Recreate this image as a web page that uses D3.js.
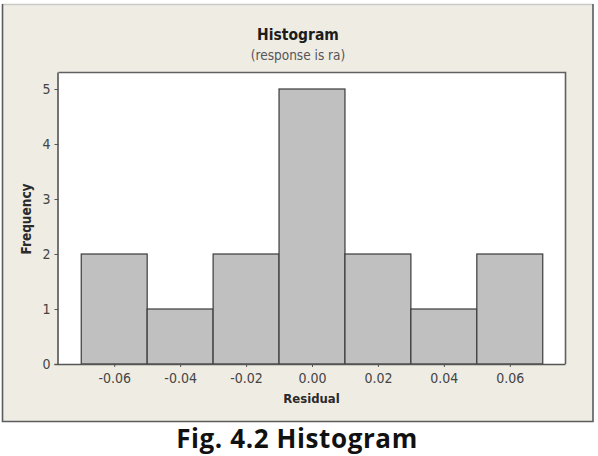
<!DOCTYPE html>
<html>
<head>
<meta charset="utf-8">
<script src="https://cdn.jsdelivr.net/npm/d3@7/dist/d3.min.js"></script>
<style>
  html, body { margin: 0; padding: 0; background: #ffffff; }
  svg { display: block; }
  .cond { font-family: "DejaVu Sans Condensed", "DejaVu Sans", sans-serif; font-stretch: condensed; }
</style>
</head>
<body>
<script>
// ---- data ----
const binCenters = [-0.06, -0.04, -0.02, 0.00, 0.02, 0.04, 0.06];
const frequencies = [2, 1, 2, 5, 2, 1, 2];
const binWidth = 0.02;
const xTickValues = [-0.06, -0.04, -0.02, 0.00, 0.02, 0.04, 0.06];
const yTickValues = [0, 1, 2, 3, 4, 5];
const titleText = "Histogram";
const subtitleText = "(response is ra)";
const xLabel = "Residual";
const yLabel = "Frequency";
const captionText = "Fig. 4.2 Histogram";

// ---- layout ----
const W = 598, H = 456;
const plot = { left: 58.5, right: 565.5, top: 72.5, bottom: 364 };

const svg = d3.select("body").append("svg").attr("width", W).attr("height", H);

// outer panel
svg.append("rect").attr("x", 2.5).attr("y", 4).attr("width", 590.5).attr("height", 417.5)
  .attr("fill", "#efece4");
svg.append("line").attr("x1", 2.5).attr("x2", 593).attr("y1", 4.5).attr("y2", 4.5)
  .attr("stroke", "#c9c9c6").attr("stroke-width", 1.5);
svg.append("path")
  .attr("d", `M2.5,4 L2.5,421.5 L593,421.5 L593,4`)
  .attr("fill", "none").attr("stroke", "#5c5c5c").attr("stroke-width", 1.6);

// scales
const x = d3.scaleLinear().domain([-0.0769, 0.0769]).range([plot.left, plot.right]);
const y = d3.scaleLinear().domain([0, 5.3]).range([plot.bottom, plot.bottom - 5.3 * 55]);

// plot area
svg.append("rect").attr("x", plot.left).attr("y", plot.top)
  .attr("width", plot.right - plot.left).attr("height", plot.bottom - plot.top)
  .attr("fill", "#ffffff");

// bars
svg.append("g").selectAll("rect").data(binCenters).join("rect")
  .attr("x", d => x(d - binWidth / 2))
  .attr("width", d => x(d + binWidth / 2) - x(d - binWidth / 2))
  .attr("y", (d, i) => y(frequencies[i]))
  .attr("height", (d, i) => y(0) - y(frequencies[i]))
  .attr("fill", "#c0c0c0")
  .attr("stroke", "#3a3a3a")
  .attr("stroke-width", 1.2);

// frame (top/right)
svg.append("path")
  .attr("d", `M${plot.left},${plot.top} L${plot.right},${plot.top} L${plot.right},${plot.bottom}`)
  .attr("fill", "none").attr("stroke", "#606060").attr("stroke-width", 1.6);

// axes
const xAxis = d3.axisBottom(x).tickValues(xTickValues).tickFormat(d => d.toFixed(2))
  .tickSizeInner(3).tickSizeOuter(0).tickPadding(6);
const gx = svg.append("g").attr("transform", `translate(0,${plot.bottom})`).call(xAxis);
gx.attr("font-family", null).attr("font-size", null);
gx.select(".domain").attr("d", `M${plot.left - 4},0.5 H${plot.right}`).attr("stroke", "#555").attr("stroke-width", 1.6);
gx.selectAll(".tick line").attr("stroke", "#555");
gx.selectAll(".tick text").attr("class", "cond").style("font-size", "14px").attr("fill", "#444");

const yAxis = d3.axisLeft(y).tickValues(yTickValues).tickFormat(d3.format("d"))
  .tickSizeInner(4).tickSizeOuter(0).tickPadding(4);
const gy = svg.append("g").attr("transform", `translate(${plot.left},0)`).call(yAxis);
gy.attr("font-family", null).attr("font-size", null);
gy.select(".domain").attr("d", `M-0.5,${plot.top} V${plot.bottom}`).attr("stroke", "#555").attr("stroke-width", 1.6);
gy.selectAll(".tick line").attr("stroke", "#555");
gy.selectAll(".tick text").attr("class", "cond").style("font-size", "14px").attr("fill", "#444");

// titles
svg.append("text").attr("class", "cond").attr("x", 298).attr("y", 40)
  .attr("text-anchor", "middle").style("font-size", "15.5px").attr("font-weight", "bold")
  .attr("fill", "#1c1c1c").text(titleText);
svg.append("text").attr("class", "cond").attr("x", 298).attr("y", 59.5)
  .attr("text-anchor", "middle").style("font-size", "13.5px")
  .attr("fill", "#555").text(subtitleText);
svg.append("text").attr("class", "cond").attr("x", 311.5).attr("y", 402.5)
  .attr("text-anchor", "middle").style("font-size", "13px").attr("font-weight", "bold")
  .attr("fill", "#2a2a2a").text(xLabel);
svg.append("text").attr("class", "cond")
  .attr("transform", "translate(31,219) rotate(-90)")
  .attr("text-anchor", "middle").style("font-size", "13.5px").attr("font-weight", "bold")
  .attr("fill", "#2a2a2a").text(yLabel);

// caption
svg.append("text").attr("x", 297).attr("y", 448)
  .attr("text-anchor", "middle")
  .attr("font-family", "'Open Sans', Lato, sans-serif")
  .style("font-size", "26px").style("letter-spacing", "0.6px").attr("font-weight", "bold")
  .attr("fill", "#111").text(captionText);
</script>
</body>
</html>
